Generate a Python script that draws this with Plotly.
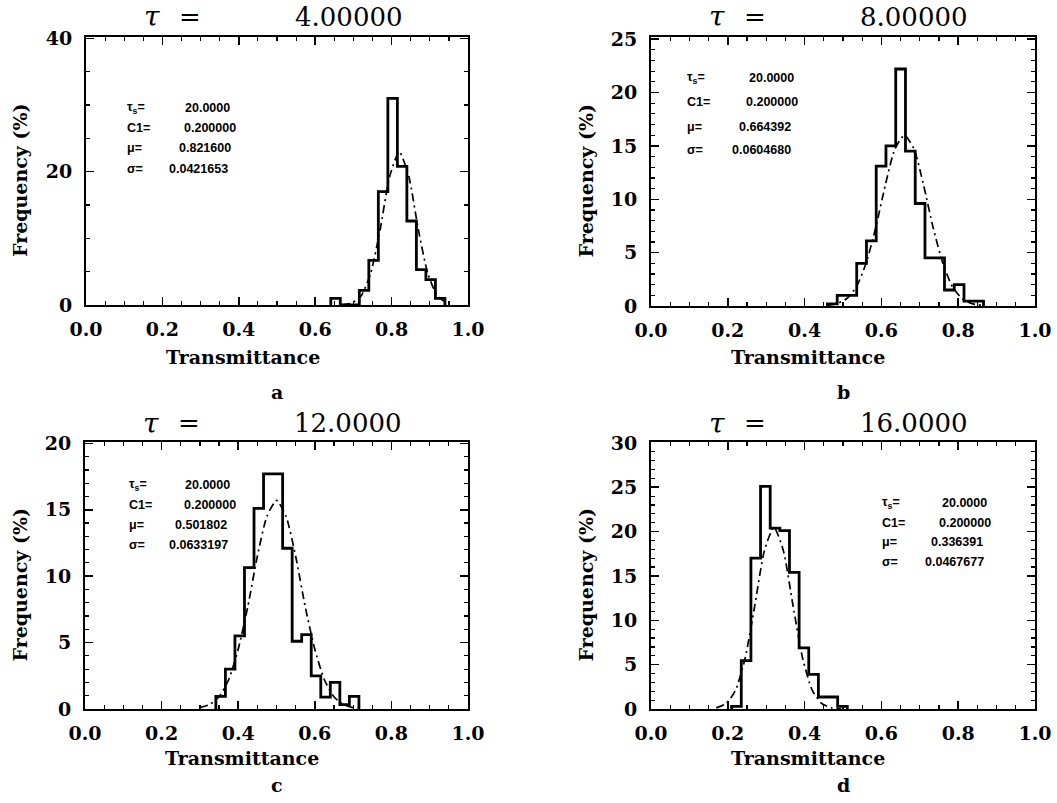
import numpy as np
import plotly.graph_objects as go

W, H = 1057, 803

# ---------------- data ----------------
panel_letters = ["a", "b", "c", "d"]
tau_values = ["4.00000", "8.00000", "12.0000", "16.0000"]
tau_s_values = ["20.0000", "20.0000", "20.0000", "20.0000"]
c1_values = ["0.200000", "0.200000", "0.200000", "0.200000"]
mu_values = ["0.821600", "0.664392", "0.501802", "0.336391"]
sigma_values = ["0.0421653", "0.0604680", "0.0633197", "0.0467677"]

# histograms (frequency in % per bin): first bin edge, bin width, heights
hist_a_start, hist_a_width = 0.6408, 0.0249
hist_a_freq = [1.0, 0, 0, 2.2, 6.7, 17.0, 31.0, 20.8, 12.6, 5.3, 3.8, 1.0]
hist_b_start, hist_b_width = 0.4595, 0.0254
hist_b_freq = [0.2, 1.0, 1.0, 4.0, 6.1, 13.1, 15.0, 22.2, 14.5, 9.6, 4.5, 4.5, 1.5, 2.0, 0.45, 0.45]
hist_c_start, hist_c_width = 0.3417, 0.0249
hist_c_freq = [0.95, 3.0, 5.5, 10.65, 15.1, 17.7, 17.7, 12.1, 5.1, 5.6, 2.5, 0.9, 2.0, 0.33, 0.95]
hist_d_start, hist_d_width = 0.210, 0.0251
hist_d_freq = [0.3, 5.45, 17.0, 25.1, 20.4, 20.1, 15.4, 6.9, 3.9, 1.35, 1.35, 0.3]

# fitted curves (dash-dot): first x, step, values
fit_a_start, fit_a_step = 0.67, 0.025
fit_a_freq = [0.04, 0.27, 1.35, 4.7, 11.3, 19.3, 23.0, 19.3, 11.3, 4.7, 1.35, 0.27]
fit_b_start, fit_b_step = 0.46, 0.025
fit_b_freq = [0.06, 0.23, 0.70, 1.8, 4.0, 7.3, 11.3, 14.7, 16.0, 14.7, 11.3, 7.3, 4.0, 1.8, 0.70, 0.23, 0.06]
fit_c_start, fit_c_step = 0.30, 0.025
fit_c_freq = [0.10, 0.33, 0.92, 2.2, 4.5, 7.7, 11.5, 14.5, 15.7, 14.5, 11.5, 7.7, 4.5, 2.2, 0.92, 0.33, 0.10]
fit_d_start, fit_d_step = 0.17, 0.025
fit_d_freq = [0.13, 0.6, 2.1, 5.7, 11.6, 17.8, 20.5, 17.8, 11.6, 5.7, 2.1, 0.6, 0.13, 0.02]

x_tick_values = [0.0, 0.2, 0.4, 0.6, 0.8, 1.0]
y_max = [40.2, 25.2, 20.1, 30.1]
y_major = [20, 5, 5, 5]
y_minor = [5, 1, 1, 1]

hists = [(hist_a_start, hist_a_width, hist_a_freq), (hist_b_start, hist_b_width, hist_b_freq),
         (hist_c_start, hist_c_width, hist_c_freq), (hist_d_start, hist_d_width, hist_d_freq)]
fits = [(fit_a_start, fit_a_step, fit_a_freq), (fit_b_start, fit_b_step, fit_b_freq),
        (fit_c_start, fit_c_step, fit_c_freq), (fit_d_start, fit_d_step, fit_d_freq)]

# ---------------- layout geometry (pixels) ----------------
frames = [(86, 468, 37, 305), (651, 1035, 37, 306), (85, 468, 442, 709), (651, 1035, 442, 709)]
stat_label_dx = [39, 34, 42, 229]
stat_value_dx = [[97, 96, 91, 81], [96, 93, 86, 79], [98, 97, 88, 82], [289, 286, 278, 272]]
stat_rows_y = [[108, 128, 148, 169], [78, 102, 127, 150], [485, 505, 525, 545], [503, 523, 542, 562]]


def px(x):
    return x / W


def py(y):
    return 1 - y / H


SERIF = "DejaVu Serif"
SANS = "Liberation Sans"

fig = go.Figure()
annotations = []
layout_axes = {}

for i in range(4):
    ax = "" if i == 0 else str(i + 1)
    x0, x1, y0, y1 = frames[i]
    start, width, freq = hists[i]
    n = len(freq)
    edges = start + width * np.arange(n + 1)
    hx = [edges[0]] + list(edges[:-1]) + [edges[-1]]
    hy = [0] + list(freq) + [0]
    fig.add_trace(go.Scatter(x=hx, y=hy, mode="lines", line=dict(color="black", width=2.8, shape="hv"),
                             xaxis="x" + ax, yaxis="y" + ax, showlegend=False, hoverinfo="skip"))
    fs, fstep, ff = fits[i]
    fx = fs + fstep * np.arange(len(ff))
    fig.add_trace(go.Scatter(x=fx, y=ff, mode="lines",
                             line=dict(color="black", width=1.7, dash="8px,4px,2px,4px", shape="spline", smoothing=0.6),
                             xaxis="x" + ax, yaxis="y" + ax, showlegend=False, hoverinfo="skip"))

    common = dict(showline=True, linewidth=2, linecolor="black", mirror="ticks", ticks="inside",
                  ticklen=8, tickwidth=1.5, tickcolor="black", showgrid=False, zeroline=False,
                  automargin=False,
                  tickfont=dict(family=SERIF, size=19, color="black", weight="bold"))
    layout_axes["xaxis" + ax] = dict(common, domain=[px(x0), px(x1)], anchor="y" + ax, range=[0, 1],
                                     tickvals=x_tick_values, tickformat=".1f", ticklabelstandoff=6,
                                     minor=dict(dtick=0.05, ticklen=4, tickwidth=1.2, ticks="inside",
                                                tickcolor="black", showgrid=False))
    layout_axes["yaxis" + ax] = dict(common, domain=[py(y1), py(y0)], anchor="x" + ax, range=[0, y_max[i]],
                                     dtick=y_major[i], tick0=0, ticklabelstandoff=8,
                                     minor=dict(dtick=y_minor[i], ticklen=4, tickwidth=1.2, ticks="inside",
                                                tickcolor="black", showgrid=False))

    # title  "tau =   value"
    ty = 17 if i < 2 else 423
    annotations.append(dict(x=px(x0 + 66), y=py(ty), xref="paper", yref="paper", text="<i>τ</i>",
                            showarrow=False, font=dict(family=SERIF, size=28, color="black"),
                            xanchor="center", yanchor="middle"))
    annotations.append(dict(x=px(x0 + 104), y=py(ty), xref="paper", yref="paper", text="=",
                            showarrow=False, font=dict(family=SERIF, size=26, color="black"),
                            xanchor="center", yanchor="middle"))
    annotations.append(dict(x=px(x0 + 263), y=py(ty), xref="paper", yref="paper", text=tau_values[i],
                            showarrow=False, font=dict(family=SERIF, size=26, color="black"),
                            xanchor="center", yanchor="middle"))
    # axis titles
    annotations.append(dict(x=px(x0 + 157), y=py(357 if i < 2 else 758), xref="paper", yref="paper",
                            text="Transmittance", showarrow=False,
                            font=dict(family=SERIF, size=19, color="black", weight="bold"),
                            xanchor="center", yanchor="middle"))
    annotations.append(dict(x=px(x0 - 66), y=py((y0 + y1) / 2 + 9), xref="paper", yref="paper",
                            text="Frequency (%)", showarrow=False, textangle=-90,
                            font=dict(family=SERIF, size=19, color="black", weight="bold"),
                            xanchor="center", yanchor="middle"))
    annotations.append(dict(x=px((x0 + x1) / 2), y=py(392 if i < 2 else 785), xref="paper", yref="paper",
                            text=panel_letters[i], showarrow=False,
                            font=dict(family=SERIF, size=19, color="black", weight="bold"),
                            xanchor="center", yanchor="middle"))
    # stats block
    labels = ["τ<sub>s</sub>=", "C1=", "μ=", "σ="]
    values = [tau_s_values[i], c1_values[i], mu_values[i], sigma_values[i]]
    for r in range(4):
        annotations.append(dict(x=px(x0 + stat_label_dx[i]), y=py(stat_rows_y[i][r]), xref="paper", yref="paper",
                                text=labels[r], showarrow=False,
                                font=dict(family=SANS, size=12.5, color="black", weight="bold"),
                                xanchor="left", yanchor="middle"))
        annotations.append(dict(x=px(x0 + stat_value_dx[i][r]), y=py(stat_rows_y[i][r]), xref="paper", yref="paper",
                                text=values[r], showarrow=False,
                                font=dict(family=SANS, size=12.5, color="black", weight="bold"),
                                xanchor="left", yanchor="middle"))

fig.update_layout(width=W, height=H, margin=dict(l=0, r=0, t=0, b=0, pad=0, autoexpand=False),
                  paper_bgcolor="white", plot_bgcolor="white", showlegend=False,
                  annotations=annotations, **layout_axes)

fig.write_html("out.html", config={"displayModeBar": False, "staticPlot": True},
               post_script="document.body.style.margin='0';document.body.style.overflow='hidden';")
